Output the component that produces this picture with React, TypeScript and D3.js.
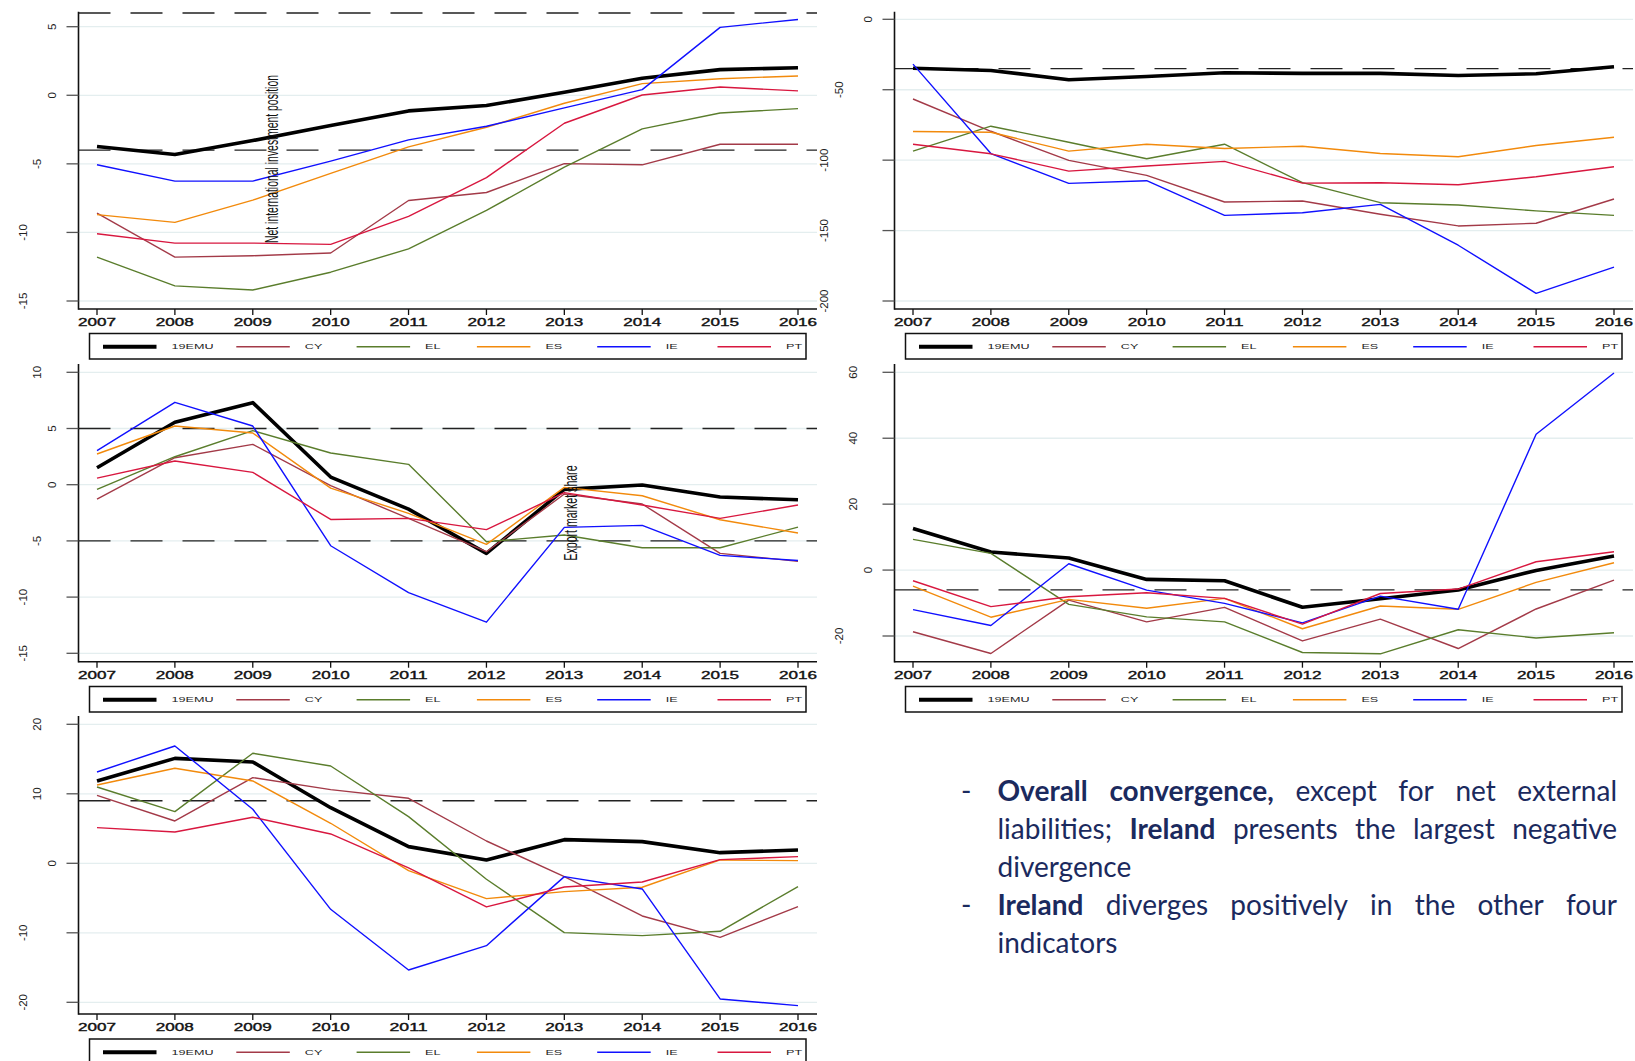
import React, { useEffect, useRef } from "react";
import * as d3 from "d3";

const years = [2007, 2008, 2009, 2010, 2011, 2012, 2013, 2014, 2015, 2016];
const seriesNames = ["19EMU", "CY", "EL", "ES", "IE", "PT"];
const seriesColors = ["#000000", "#a33a48", "#5a7d2c", "#f28a0c", "#1010ff", "#d8173f"];

// Current account balance (top-left)
const caBalance = [
  [-3.74, -4.32, -3.3, -2.2, -1.14, -0.75, 0.22, 1.24, 1.87, 2.01],
  [-8.6, -11.8, -11.7, -11.5, -7.67, -7.09, -4.98, -5.07, -3.57, -3.57],
  [-11.8, -13.9, -14.2, -12.9, -11.2, -8.4, -5.24, -2.45, -1.29, -0.97],
  [-8.7, -9.27, -7.65, -5.7, -3.76, -2.33, -0.58, 0.85, 1.21, 1.41],
  [-5.07, -6.26, -6.26, -4.8, -3.25, -2.26, -0.92, 0.41, 4.95, 5.53],
  [-10.1, -10.78, -10.78, -10.87, -8.83, -6.0, -2.04, 0.02, 0.6, 0.32],
];
// Net international investment position (top-right)
const niip = [
  [-34.7, -36.3, -42.9, -40.6, -38, -38.4, -38.4, -39.9, -38.7, -33.7],
  [-56.6, -79.5, -100.2, -110.8, -129.7, -129, -138.4, -146.7, -144.8, -127.6],
  [-93.6, -75.9, -87.3, -99, -88.7, -116, -130.2, -131.8, -136, -139.2],
  [-79.7, -80.2, -93.6, -88.7, -91.7, -90.1, -95.3, -97.6, -89.6, -83.7],
  [-31.8, -95.3, -116.5, -114.6, -139.2, -137.3, -131.4, -160.4, -194.6, -175.9],
  [-88.7, -95.5, -107.8, -104.2, -100.9, -116.3, -116, -117.5, -111.8, -104.7],
];
// Real effective exchange rate (middle-left)
const reer = [
  [1.51, 5.55, 7.3, 0.68, -2.17, -6.11, -0.42, -0.03, -1.1, -1.34],
  [-1.28, 2.4, 3.59, -0.09, -3.0, -5.96, -0.83, -1.72, -6.11, -6.82],
  [-0.42, 2.49, 4.81, 2.82, 1.81, -5.07, -4.48, -5.61, -5.61, -3.77],
  [2.73, 5.22, 4.6, -0.3, -2.55, -5.31, -0.24, -0.98, -3.12, -4.3],
  [3.03, 7.33, 5.22, -5.43, -9.61, -12.23, -3.8, -3.62, -6.29, -6.74],
  [0.59, 2.11, 1.1, -3.09, -3.0, -4.0, -0.71, -1.81, -3.0, -1.81],
];
// Export market share (middle-right)
const ems = [
  [12.6, 5.46, 3.64, -2.83, -3.24, -11.3, -8.7, -6.07, -0.1, 4.25],
  [-18.7, -25.3, -9.1, -15.7, -11.3, -21.5, -14.9, -23.8, -11.8, -3.03],
  [9.3, 5.06, -10.4, -14.2, -15.7, -25, -25.4, -18.1, -20.6, -19.0],
  [-4.85, -14.3, -8.9, -11.6, -8.6, -17.8, -10.9, -11.9, -3.74, 2.22],
  [-12.0, -16.8, 1.92, -6.07, -10.1, -16.0, -7.9, -11.9, 41.2, 59.8],
  [-3.24, -11.1, -8.1, -6.9, -8.6, -16.4, -7.1, -5.76, 2.53, 5.56],
];
// Unit labour cost (bottom-left)
const ulc = [
  [11.85, 15.1, 14.58, 8.0, 2.4, 0.48, 3.4, 3.12, 1.53, 1.92],
  [9.78, 6.09, 12.33, 10.6, 9.35, 3.21, -1.92, -7.58, -10.65, -6.24],
  [10.98, 7.43, 15.83, 14.0, 6.71, -2.3, -9.98, -10.41, -9.78, -3.36],
  [11.27, 13.67, 11.85, 5.76, -1.06, -5.08, -4.08, -3.45, 0.48, 0.38],
  [13.14, 16.88, 7.77, -6.62, -15.35, -11.85, -1.92, -3.69, -19.52, -20.48],
  [5.13, 4.51, 6.62, 4.22, -0.67, -6.28, -3.41, -2.69, 0.53, 0.96],
];

const caTicks = [-15, -10, -5, 0, 5];
const niipTicks = [-200, -150, -100, -50, 0];
const reerTicks = [-15, -10, -5, 0, 5, 10];
const emsTicks = [-20, 0, 20, 40, 60];
const ulcTicks = [-20, -10, 0, 10, 20];

const caThresholds = [6, -4];
const niipThresholds = [-35];
const reerThresholds = [5, -5];
const emsThresholds = [-6];
const ulcThresholds = [9];

const annotationNIIP = "Net international investment position";
const annotationEMS = "Export market share";

const bulletLines = [
  "**Overall convergence,** except for net external",
  "liabilities; **Ireland** presents the largest negative",
  "divergence",
  "**Ireland** diverges positively in the other four",
  "indicators",
];

// ---------- layout ----------
const W = 1635;
const H = 1061;
const colDx = [0, 816];
const rowTop = [11.7, 364, 716];
const rowBottom = [309, 661.7, 1014];
const legendTop = [333.5, 686.5, 1039];

type Panel = {
  values: number[][];
  ticks: number[];
  thresholds: number[];
  col: number;
  row: number;
  yRange: [number, number];
  note?: { text: string; x: number; y: number; len: number };
};

const panels: Panel[] = [
  { values: caBalance, ticks: caTicks, thresholds: caThresholds, col: 0, row: 0, yRange: [301, 26.7],
    note: { text: annotationNIIP, x: 278, y: 159, len: 168 } },
  { values: niip, ticks: niipTicks, thresholds: niipThresholds, col: 1, row: 0, yRange: [301, 19.3] },
  { values: reer, ticks: reerTicks, thresholds: reerThresholds, col: 0, row: 1, yRange: [653.3, 372.3],
    note: { text: annotationEMS, x: 577, y: 513, len: 95 } },
  { values: ems, ticks: emsTicks, thresholds: emsThresholds, col: 1, row: 1, yRange: [636, 372.3] },
  { values: ulc, ticks: ulcTicks, thresholds: ulcThresholds, col: 0, row: 2, yRange: [1002.3, 724.3] },
];

const AX = "'Liberation Sans', Arial, sans-serif";

function drawPanel(svg: any, p: Panel) {
  const dx = colDx[p.col];
  const axisX = 78.5 + dx;
  const right = 817 + dx;
  const top = rowTop[p.row];
  const bottom = rowBottom[p.row];
  const x = d3.scaleLinear().domain([years[0], years[years.length - 1]]).range([97 + dx, 798 + dx]);
  const y = d3.scaleLinear().domain([p.ticks[0], p.ticks[p.ticks.length - 1]]).range(p.yRange);
  const g = svg.append("g");

  // grid
  g.append("g").selectAll("line").data(p.ticks).join("line")
    .attr("x1", axisX).attr("x2", right)
    .attr("y1", (d: number) => y(d)).attr("y2", (d: number) => y(d))
    .attr("stroke", "#e4eeef").attr("stroke-width", 1.3);

  // thresholds
  g.append("g").selectAll("line").data(p.thresholds).join("line")
    .attr("x1", axisX).attr("x2", right)
    .attr("y1", (d: number) => y(d)).attr("y2", (d: number) => y(d))
    .attr("stroke", "#222").attr("stroke-width", 1.4).attr("stroke-dasharray", "32 20");

  // series
  const line = d3.line<number>().x((_, i) => x(years[i])).y((d) => y(d));
  const sg = g.append("g");
  p.values.forEach((vals, si) => {
    sg.append("path").attr("d", line(vals)).attr("fill", "none")
      .attr("stroke", seriesColors[si]).attr("stroke-width", si === 0 ? 3.6 : 1.4)
      .attr("stroke-linejoin", "round");
  });

  // annotation
  if (p.note) {
    g.append("text")
      .attr("transform", `translate(${p.note.x},${p.note.y}) rotate(-90)`)
      .attr("text-anchor", "middle").attr("font-family", AX).attr("font-size", 18)
      .attr("textLength", p.note.len).attr("lengthAdjust", "spacingAndGlyphs")
      .attr("fill", "#111").text(p.note.text);
  }

  // axes
  g.append("line").attr("x1", axisX).attr("x2", axisX).attr("y1", top).attr("y2", bottom + 0.8)
    .attr("stroke", "#111").attr("stroke-width", 1.6);
  g.append("line").attr("x1", axisX).attr("x2", right).attr("y1", bottom).attr("y2", bottom)
    .attr("stroke", "#111").attr("stroke-width", 1.4);

  // y ticks + labels
  g.append("g").selectAll("line").data(p.ticks).join("line")
    .attr("x1", axisX - 12).attr("x2", axisX)
    .attr("y1", (d: number) => y(d)).attr("y2", (d: number) => y(d))
    .attr("stroke", "#555").attr("stroke-width", 1.3);
  g.append("g").selectAll("text").data(p.ticks).join("text")
    .attr("transform", (d: number) => {
      const s = String(d);
      const cx = axisX - 27 - (s.length - 1) * 14.5;
      return `translate(${cx},${y(d)}) rotate(-90)`;
    })
    .attr("text-anchor", "middle").attr("dominant-baseline", "central")
    .attr("font-family", AX).attr("font-size", 11.5).attr("fill", "#222")
    .text((d: number) => String(d));

  // x ticks + labels
  g.append("g").selectAll("line").data(years).join("line")
    .attr("x1", (d: number) => x(d)).attr("x2", (d: number) => x(d))
    .attr("y1", bottom).attr("y2", bottom + 6)
    .attr("stroke", "#111").attr("stroke-width", 1.3);
  g.append("g").selectAll("text").data(years).join("text")
    .attr("x", (d: number) => x(d)).attr("y", bottom + 17)
    .attr("text-anchor", "middle").attr("font-family", AX).attr("font-size", 10.5)
    .attr("textLength", 38).attr("lengthAdjust", "spacingAndGlyphs")
    .attr("fill", "#111").attr("stroke", "#111").attr("stroke-width", 0.35)
    .text((d: number) => String(d));

  // legend
  const lt = legendTop[p.row];
  const lg = g.append("g");
  lg.append("rect").attr("x", 89.5 + dx).attr("y", lt).attr("width", 716.5).attr("height", 25.5)
    .attr("fill", "#fff").attr("stroke", "#111").attr("stroke-width", 1.5);
  seriesNames.forEach((name, i) => {
    const x1 = (i === 0 ? 103 : 116 + 120.3 * i) + dx;
    const ly = lt + 13.3;
    lg.append("line").attr("x1", x1).attr("x2", x1 + 53.5).attr("y1", ly).attr("y2", ly)
      .attr("stroke", seriesColors[i]).attr("stroke-width", i === 0 ? 4 : 1.4);
    lg.append("text")
      .attr("transform", `translate(${x1 + 53.5 + 15},${ly + 2.5}) scale(1.8,1)`)
      .attr("font-family", AX).attr("font-size", 7).attr("fill", "#222").text(name);
  });
}

function drawBullets(svg: any) {
  const left = 997.5;
  const right = 1617;
  const base0 = 801;
  const step = 38.1;
  const g = svg.append("g").attr("font-family", "Lato, 'Open Sans', sans-serif")
    .attr("font-size", 28).attr("fill", "#1b2a5e");
  bulletLines.forEach((ln, li) => {
    const by = base0 + li * step;
    const words: { t: string; b: boolean }[] = [];
    ln.split("**").forEach((seg, k) => {
      seg.split(" ").filter((w) => w.length > 0).forEach((w) => words.push({ t: w, b: k % 2 === 1 }));
    });
    const dash = li === 0 || li === 3;
    const justify = li === 0 || li === 1 || li === 3;
    if (dash) g.append("text").attr("x", 961).attr("y", by).text("-");
    const nodes = words.map((w) =>
      g.append("text").attr("y", by).attr("font-weight", w.b ? "bold" : "normal").text(w.t)
    );
    const widths = nodes.map((n) => (n.node() as SVGTextElement).getComputedTextLength());
    const total = widths.reduce((a, b) => a + b, 0);
    const gap = justify && words.length > 1 ? (right - left - total) / (words.length - 1) : 7;
    let cx = left;
    nodes.forEach((n, i) => {
      n.attr("x", cx);
      cx += widths[i] + gap;
    });
  });
}

export default function App() {
  const ref = useRef<SVGSVGElement>(null);
  useEffect(() => {
    const svg = d3.select(ref.current);
    svg.selectAll("*").remove();
    svg.append("rect").attr("width", W).attr("height", H).attr("fill", "#fff");
    panels.forEach((p) => drawPanel(svg, p));
    drawBullets(svg);
  }, []);
  return (
    <svg
      ref={ref}
      width={W}
      height={H}
      style={{ position: "absolute", left: 0, top: 0, display: "block" }}
    />
  );
}
